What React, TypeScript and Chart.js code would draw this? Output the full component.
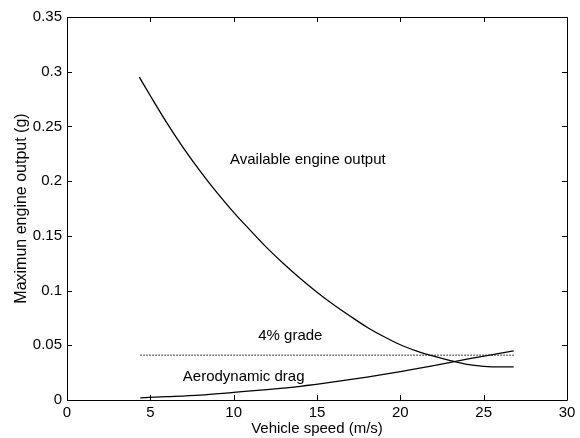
import React, { useEffect, useRef } from "react";
import { Chart, registerables } from "chart.js";

Chart.register(...registerables);

// Available engine output curve
const engineSpeed = [4.34, 5, 6, 7, 8, 9, 10, 11, 12, 13, 14, 15, 16, 17, 18, 19, 20, 21, 22, 23, 24, 25, 26, 26.8];
const engineOutput = [0.295, 0.278, 0.253, 0.23, 0.209, 0.1895, 0.1715, 0.155, 0.139, 0.1245, 0.111, 0.0985, 0.087, 0.0765, 0.0665, 0.058, 0.0505, 0.0447, 0.04, 0.036, 0.0325, 0.0308, 0.0303, 0.0303];

// 4% grade line
const gradeSpeed = [4.4, 26.8];
const gradeValue = [0.041, 0.041];

// Aerodynamic drag curve
const dragSpeed = [4.4, 6, 8, 10, 12, 14, 16, 18, 20, 22, 24, 26.8];
const dragValue = [0.002, 0.003, 0.0045, 0.007, 0.0095, 0.0125, 0.0165, 0.021, 0.026, 0.0315, 0.0373, 0.0448];

// Axis ticks
const xTicks = [0, 5, 10, 15, 20, 25, 30];
const yTicks = [0, 0.05, 0.1, 0.15, 0.2, 0.25, 0.3, 0.35];

// Text labels placed in data coordinates
const labelTexts = ["Available engine output", "4% grade", "Aerodynamic drag"];
const labelX = [14.45, 13.4, 10.6];
const labelY = [0.219, 0.0585, 0.021];

const FONT = '"Liberation Sans", Arial, Helvetica, sans-serif';

function pts(xs: number[], ys: number[]) {
  return xs.map((x, i) => ({ x, y: ys[i] }));
}

const boxPlugin = {
  id: "boxTicks",
  afterDraw(chart: any) {
    const { ctx, chartArea, scales } = chart;
    const { left, right, top, bottom } = chartArea;
    ctx.save();
    ctx.strokeStyle = "#000";
    ctx.lineWidth = 1;
    ctx.beginPath();
    ctx.rect(Math.round(left) + 0.5, Math.round(top) + 0.5, Math.round(right - left), Math.round(bottom - top));
    ctx.stroke();
    const L = 5;
    ctx.beginPath();
    xTicks.forEach((t) => {
      const px = Math.round(scales.x.getPixelForValue(t)) + 0.5;
      ctx.moveTo(px, bottom);
      ctx.lineTo(px, bottom - L);
      ctx.moveTo(px, top);
      ctx.lineTo(px, top + L);
    });
    yTicks.forEach((t) => {
      const py = Math.round(scales.y.getPixelForValue(t)) + 0.5;
      ctx.moveTo(left, py);
      ctx.lineTo(left + L, py);
      ctx.moveTo(right, py);
      ctx.lineTo(right - L, py);
    });
    ctx.stroke();
    ctx.fillStyle = "#000";
    ctx.font = `15px ${FONT}`;
    ctx.textAlign = "center";
    ctx.textBaseline = "middle";
    labelTexts.forEach((txt, i) => {
      ctx.fillText(txt, scales.x.getPixelForValue(labelX[i]), scales.y.getPixelForValue(labelY[i]));
    });
    ctx.restore();
  },
};

export default function App() {
  const ref = useRef<HTMLCanvasElement | null>(null);
  useEffect(() => {
    if (!ref.current) return;
    const chart = new Chart(ref.current, {
      type: "scatter",
      data: {
        datasets: [
          {
            data: pts(engineSpeed, engineOutput),
            showLine: true,
            borderColor: "#000",
            borderWidth: 1.3,
            pointRadius: 0,
            cubicInterpolationMode: "monotone",
          },
          {
            data: pts(gradeSpeed, gradeValue),
            showLine: true,
            borderColor: "#000",
            borderWidth: 1,
            borderDash: [1.5, 1.5],
            pointRadius: 0,
          },
          {
            data: pts(dragSpeed, dragValue),
            showLine: true,
            borderColor: "#000",
            borderWidth: 1.3,
            pointRadius: 0,
            cubicInterpolationMode: "monotone",
          },
        ],
      },
      options: {
        responsive: false,
        animation: false,
        layout: { padding: { top: 17, right: 13, left: 0, bottom: 0 } },
        plugins: { legend: { display: false }, tooltip: { enabled: false } },
        scales: {
          x: {
            type: "linear",
            min: 0,
            max: 30,
            afterFit: (s: any) => {
              s.height = 38;
            },
            afterBuildTicks: (s: any) => {
              s.ticks = xTicks.map((v) => ({ value: v }));
            },
            grid: { display: false, drawTicks: false },
            border: { display: false },
            ticks: { color: "#000", font: { family: FONT, size: 15 }, padding: 4, maxRotation: 0 },
            title: {
              display: true,
              text: "Vehicle speed (m/s)",
              color: "#000",
              font: { family: FONT, size: 15 },
              padding: { top: 0, bottom: 0 },
            },
          },
          y: {
            type: "linear",
            min: 0,
            max: 0.35,
            afterFit: (s: any) => {
              s.width = 67;
            },
            afterBuildTicks: (s: any) => {
              s.ticks = yTicks.map((v) => ({ value: v }));
            },
            grid: { display: false, drawTicks: false },
            border: { display: false },
            ticks: {
              color: "#000",
              font: { family: FONT, size: 15 },
              padding: 5,
              callback: (v: any) => String(Number(Number(v).toFixed(2))),
            },
            title: {
              display: true,
              text: "Maximun engine output (g)",
              color: "#000",
              font: { family: FONT, size: 16 },
              padding: { top: 12, bottom: 0 },
            },
          },
        },
      },
      plugins: [boxPlugin],
    } as any);
    return () => chart.destroy();
  }, []);
  return (
    <div style={{ position: "fixed", left: 0, top: 0, width: 580, height: 438, background: "#fff" }}>
      <canvas ref={ref} width={580} height={438} style={{ width: 580, height: 438, display: "block" }} />
    </div>
  );
}
